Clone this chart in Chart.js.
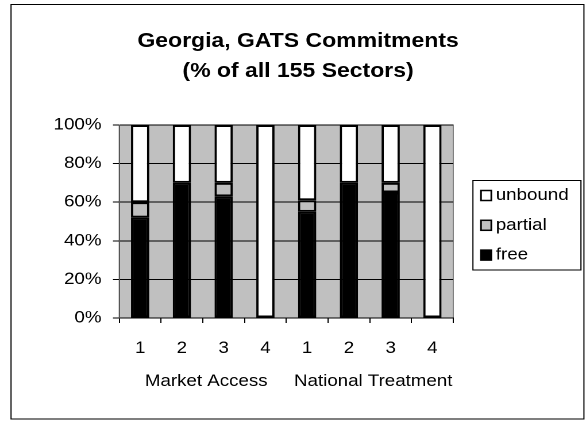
<!DOCTYPE html>
<html>
<head>
<meta charset="utf-8">
<script src="https://cdn.jsdelivr.net/npm/chart.js@4/dist/chart.umd.min.js"></script>
<style>
  html, body { margin: 0; padding: 0; background: #fff; overflow: hidden; }
  #wrap { width: 510px; height: 421px; transform: scaleX(1.149); transform-origin: 0 0; }
  canvas { display: block; }
</style>
</head>
<body>
<div id="wrap"><canvas id="c" width="510" height="421"></canvas></div>
<script>
// GATS commitment modes 1-4, for Market Access then National Treatment
const categories = ['1', '2', '3', '4', '1', '2', '3', '4'];
const groups = ['Market Access', 'National Treatment'];
const freeShare    = [52, 70, 63, 0, 55, 70, 65, 0];
const partialShare = [8, 0, 7, 0, 6, 0, 5, 0];
const unboundShare = [40, 30, 30, 100, 39, 30, 30, 100];
const yTicks = [0, 20, 40, 60, 80, 100];
const titleLines = ['Georgia, GATS Commitments', '(% of all 155 Sectors)'];

const FONT = '"Liberation Sans", Arial, sans-serif';
const LABEL_SIZE = 16.3;

// white page, outer frame, grey plot background
const framePlugin = {
  id: 'frame',
  beforeDraw(chart) {
    const ctx = chart.ctx, a = chart.chartArea;
    ctx.save();
    ctx.fillStyle = '#fff';
    ctx.fillRect(0, 0, chart.width, chart.height);
    ctx.strokeStyle = '#000';
    ctx.lineWidth = 1;
    ctx.strokeRect(9.6, 4.5, 498.6, 414.5);
    ctx.fillStyle = '#C0C0C0';
    ctx.fillRect(a.left, a.top, a.right - a.left, a.bottom - a.top);
    ctx.strokeStyle = '#808080';
    ctx.strokeRect(a.left, a.top, a.right - a.left, a.bottom - a.top);
    ctx.restore();
  }
};

// title, group captions under the mode numbers, boxed legend
const textPlugin = {
  id: 'texts',
  afterDraw(chart) {
    const ctx = chart.ctx, x = chart.scales.x;
    ctx.save();
    ctx.fillStyle = '#000';
    ctx.textAlign = 'center';
    ctx.textBaseline = 'middle';
    ctx.font = 'bold 20px ' + FONT;
    titleLines.forEach((t, i) => ctx.fillText(t, 259.4, 41.7 + i * 30));

    ctx.font = LABEL_SIZE + 'px ' + FONT;
    groups.forEach((g, i) => {
      const c = (x.getPixelForValue(i * 4) + x.getPixelForValue(i * 4 + 3)) / 2;
      ctx.fillText(g, c + 3, 381.7);
    });

    // legend
    const lx = 411.6, ly = 180.5, lw = 94, lh = 89.5;
    ctx.fillStyle = '#fff';
    ctx.fillRect(lx, ly, lw, lh);
    ctx.strokeStyle = '#000';
    ctx.lineWidth = 1;
    ctx.strokeRect(lx, ly, lw, lh);
    const items = chart.data.datasets.slice().reverse();
    ctx.textAlign = 'left';
    items.forEach((ds, i) => {
      const cy = 195.5 + i * 29.8;
      ctx.fillStyle = ds.backgroundColor;
      ctx.fillRect(418.6, cy - 5, 9, 10);
      ctx.strokeStyle = '#000';
      ctx.lineWidth = 1.5;
      ctx.strokeRect(418.6, cy - 5, 9, 10);
      ctx.fillStyle = '#000';
      ctx.fillText(ds.label, 431.5, cy);
    });
    ctx.restore();
  }
};

// empty segments are left out so they draw no outline
const seg = (label, data, color) => ({
  label,
  data: data.map(v => (v === 0 ? null : v)),
  backgroundColor: color,
  borderColor: '#000',
  borderWidth: 2,
  borderSkipped: false,
  barPercentage: 0.4376,
  categoryPercentage: 1
});

new Chart(document.getElementById('c'), {
  type: 'bar',
  data: {
    labels: categories,
    datasets: [
      seg('free', freeShare, '#000000'),
      seg('partial', partialShare, '#C0C0C0'),
      seg('unbound', unboundShare, '#FFFFFF')
    ]
  },
  options: {
    responsive: false,
    animation: false,
    devicePixelRatio: 2,
    layout: { padding: { top: 125, right: 115.5, bottom: 0, left: 0 } },
    plugins: { legend: { display: false }, title: { display: false }, tooltip: { enabled: false } },
    scales: {
      x: {
        stacked: true,
        afterFit(s) { s.height = 103; },
        grid: { offset: true, drawOnChartArea: false, drawTicks: true, tickLength: 5, color: '#000' },
        border: { color: '#000', width: 1 },
        ticks: { color: '#000', padding: 15.7, font: { family: FONT, size: LABEL_SIZE }, maxRotation: 0 }
      },
      y: {
        stacked: true,
        min: 0, max: 100,
        afterFit(s) { s.width = 103.8; },
        afterBuildTicks(s) { s.ticks = yTicks.map(v => ({ value: v })); },
        grid: { color: '#000', lineWidth: 1, tickLength: 5.5, tickColor: '#000' },
        border: { color: '#555', width: 1 },
        ticks: { color: '#000', padding: 10, font: { family: FONT, size: LABEL_SIZE }, callback: v => v + '%' }
      }
    }
  },
  plugins: [framePlugin, textPlugin]
});
</script>
</body>
</html>
